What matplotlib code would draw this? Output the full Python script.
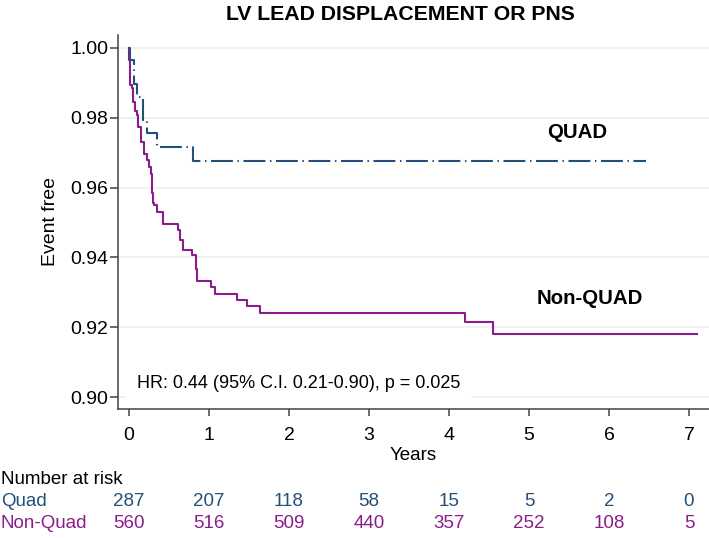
import matplotlib
matplotlib.use("Agg")
import matplotlib.pyplot as plt
import matplotlib.transforms as mtransforms

plt.rcParams["font.family"] = ["Liberation Sans", "DejaVu Sans"]

# Kaplan-Meier steps (years, event-free fraction)
quad_times = [0, 0.0125, 0.0625, 0.104, 0.171, 0.221, 0.354, 0.804, 6.46]
quad_surv = [1.0, 0.9964, 0.9897, 0.9859, 0.9790, 0.9756, 0.9716, 0.9676, 0.9676]

nonquad_times = [0, 0.005, 0.0125, 0.033, 0.054, 0.075, 0.096, 0.116, 0.146, 0.191,
                 0.229, 0.254, 0.275, 0.283, 0.292, 0.30, 0.31, 0.346, 0.429, 0.617,
                 0.638, 0.671, 0.784, 0.8375, 0.846, 1.025, 1.075, 1.346, 1.471, 1.6375,
                 4.2, 4.55, 7.1]
nonquad_surv = [1.0, 0.9964, 0.9893, 0.9884, 0.9845, 0.9820, 0.9807, 0.9774, 0.9731, 0.9695,
                0.9678, 0.9659, 0.9640, 0.9615, 0.9585, 0.9555, 0.9549, 0.9530, 0.9497, 0.9478,
                0.9449, 0.9422, 0.9406, 0.9368, 0.9332, 0.9314, 0.9294, 0.9279, 0.9260, 0.9241,
                0.9214, 0.9182, 0.9182]

# number at risk table
risk_years = [0, 1, 2, 3, 4, 5, 6, 7]
quad_risk = [287, 207, 118, 58, 15, 5, 2, 0]
nonquad_risk = [560, 516, 509, 440, 357, 252, 108, 5]

quad_color = "#23507a"
nonquad_color = "#8b1c8b"
grid_color = "#eaf2f3"
spine_color = "#444444"

fig = plt.figure(figsize=(7.09, 5.38), dpi=100)
ax = fig.add_axes([118 / 709, 1 - 409 / 538, 1 - 118 / 709, (409 - 35) / 538])

ax.step(nonquad_times, nonquad_surv, where="post", color=nonquad_color, lw=1.5)
ax.step(quad_times, quad_surv, where="post", color=quad_color, lw=1.5,
        dashes=(10.5, 2.2, 0.7, 2.2))

ax.set_xlim(-0.1375, 7.25)
ax.set_ylim(0.8966, 1.0037)
ax.set_xticks(risk_years)
ax.set_yticks([0.90, 0.92, 0.94, 0.96, 0.98, 1.00])
ax.set_yticklabels(["0.90", "0.92", "0.94", "0.96", "0.98", "1.00"])

ax.set_axisbelow(True)
ax.yaxis.grid(True, color=grid_color, lw=1.3)
ax.xaxis.grid(False)

for side in ["top", "right"]:
    ax.spines[side].set_visible(False)
for side in ["left", "bottom"]:
    ax.spines[side].set_color(spine_color)
    ax.spines[side].set_linewidth(1.1)

ax.tick_params(axis="y", length=5.8, width=1.1, color=spine_color, labelsize=14, pad=1)
ax.tick_params(axis="x", length=5, width=1.1, color=spine_color, labelsize=14, pad=8)

ax.set_xlabel("Years", fontsize=13.5, labelpad=2)
ax.set_ylabel("Event free", fontsize=14, labelpad=8)

fig.text(400 / 709, 1 - 14 / 538, "LV LEAD DISPLACEMENT OR PNS", ha="center", va="center",
         fontsize=15.3, fontweight="bold")

ax.text(5.6, 0.9759, "QUAD", ha="center", va="center", fontsize=14.7, fontweight="bold")
ax.text(5.76, 0.9283, "Non-QUAD", ha="center", va="center", fontsize=14.7, fontweight="bold")
ax.text(0.096, 0.9039, "HR: 0.44 (95% C.I. 0.21-0.90), p = 0.025", ha="left", va="center",
        fontsize=13, bbox=dict(boxstyle="square,pad=0.6", fc="white", ec="none"))

# number at risk rows below the axis
trans = mtransforms.blended_transform_factory(ax.transData, fig.transFigure)
fig.text(1 / 709, 1 - 480 / 538, "Number at risk", ha="left", va="center", fontsize=13.5)
fig.text(1 / 709, 1 - 502 / 538, "Quad", ha="left", va="center", fontsize=13.5, color=quad_color)
fig.text(1 / 709, 1 - 524 / 538, "Non-Quad", ha="left", va="center", fontsize=13.5, color=nonquad_color)
for yr, q, n in zip(risk_years, quad_risk, nonquad_risk):
    ax.text(yr, 1 - 502 / 538, str(q), transform=trans, ha="center", va="center",
            fontsize=13.5, color=quad_color, clip_on=False)
    ax.text(yr, 1 - 524 / 538, str(n), transform=trans, ha="center", va="center",
            fontsize=13.5, color=nonquad_color, clip_on=False)

fig.savefig("out.png", dpi=100)
